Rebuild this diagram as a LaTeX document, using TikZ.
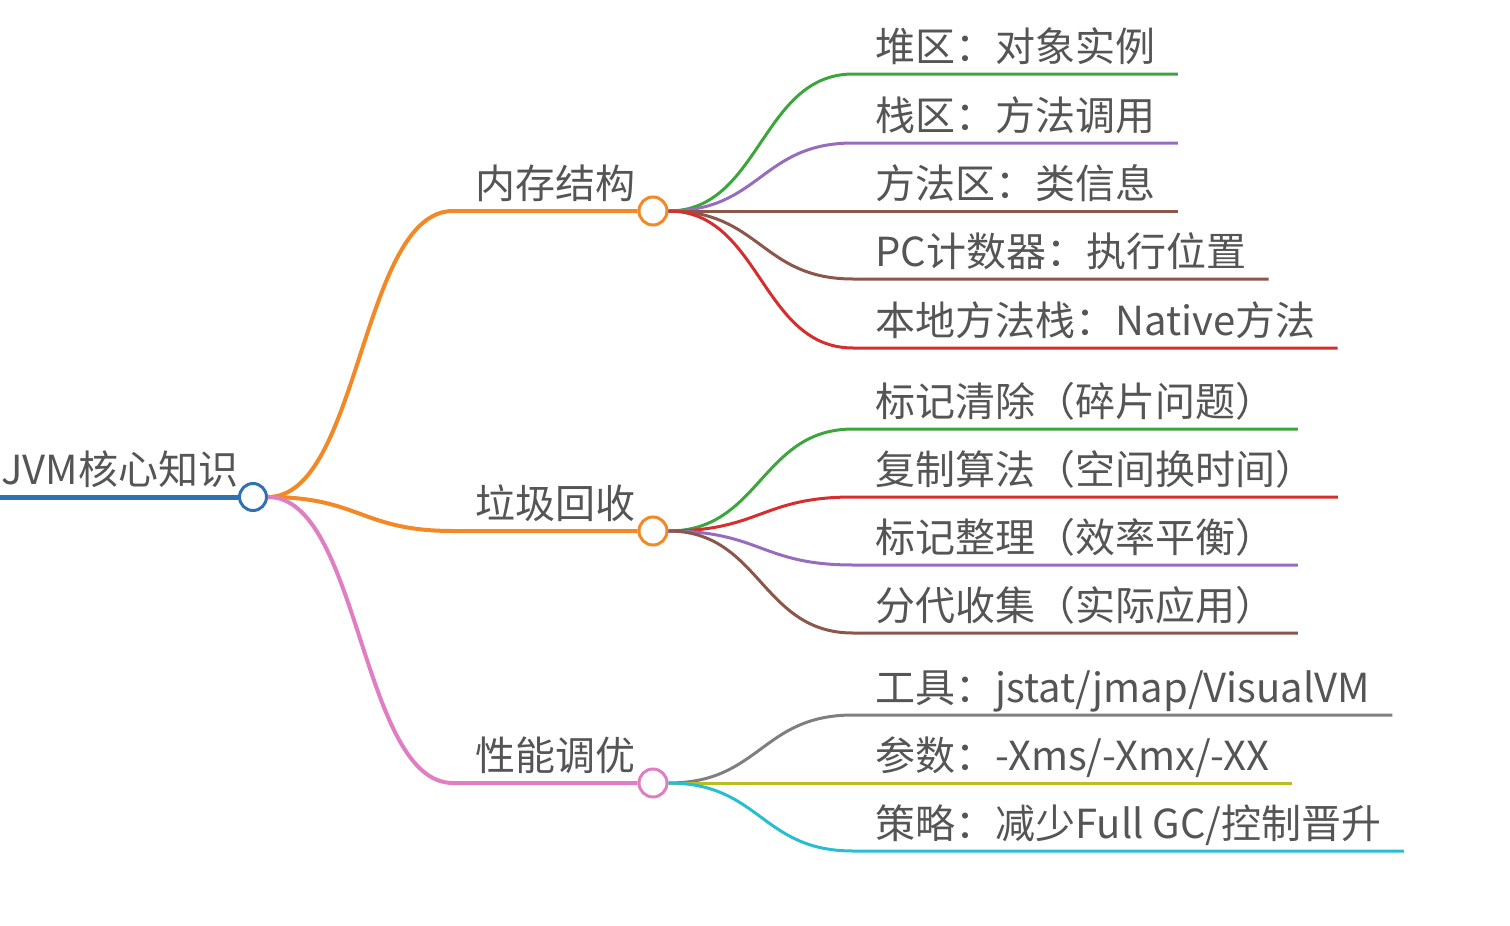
\documentclass[tikz,border=0pt]{standalone}
\usepackage{fontspec}
\setmainfont{Noto Sans CJK SC}
\usetikzlibrary{positioning}
\definecolor{colBlue}{RGB}{46,114,180}
\definecolor{colOrange}{RGB}{243,136,38}
\definecolor{colGreen}{RGB}{60,165,60}
\definecolor{colRed}{RGB}{214,45,45}
\definecolor{colPurple}{RGB}{150,108,192}
\definecolor{colBrown}{RGB}{140,86,75}
\definecolor{colPink}{RGB}{225,125,195}
\definecolor{colGray}{RGB}{127,127,127}
\definecolor{colOlive}{RGB}{188,189,34}
\definecolor{colCyan}{RGB}{40,190,210}
\definecolor{colText}{RGB}{85,85,85}
\tikzset{
  % text sitting on its own underline
  lineText/.style={
    anchor=south west, inner xsep=11pt, inner ysep=6pt,
    text depth=0pt, text=colText,
    font=\fontsize{20}{24}\selectfont,
  },
  rootText/.style={lineText, inner xsep=0.5pt},
  % hub circles
  hub/.style={
    circle, draw=#1, line width=1.5pt, fill=white,
    minimum size=14pt, inner sep=0pt,
  },
  % connectors
  rootLine/.style ={draw=colBlue, line width=2.5pt},
  trunk/.style    ={draw=#1, line width=2pt},
  twig/.style     ={draw=#1, line width=1.5pt},
}

\begin{document}
\begin{tikzpicture}[x=0.5pt, y=-0.5pt]
\useasboundingbox (0,0) rectangle (1510,926);

% ═══════════════════════════════════════════════════════════════════════════
%  ROOT
% ═══════════════════════════════════════════════════════════════════════════
\coordinate (rootL) at (0,497);
\node[rootText] (rootTxt) at (rootL) {JVM核心知识};
\node[hub=colBlue, minimum size=13.5pt] (root) at (253,497) {};
\draw[rootLine] (rootL) -- (root.west);

% ═══════════════════════════════════════════════════════════════════════════
%  BRANCHES
% ═══════════════════════════════════════════════════════════════════════════
\node[lineText] (memTxt)  at (453,211) {内存结构};
\node[hub=colOrange] (mem)  at (653,211) {};
\node[lineText] (gcTxt)   at (453,531) {垃圾回收};
\node[hub=colOrange] (gc)   at (653,531) {};
\node[lineText] (perfTxt) at (453,783) {性能调优};
\node[hub=colPink] (perf)   at (653,783) {};

\draw[trunk=colOrange] (root.east) .. controls +(92,0) and +(-92,0) .. (memTxt.south west) -- (mem.west);
\draw[trunk=colOrange] (root.east) .. controls +(92,0) and +(-92,0) .. (gcTxt.south west) -- (gc.west);
\draw[trunk=colPink]   (root.east) .. controls +(92,0) and +(-92,0) .. (perfTxt.south west) -- (perf.west);

% ── 内存结构 ───────────────────────────────────────────────────────────────
\node[lineText] (heap)        at (853,74)  {堆区：对象实例};
\node[lineText] (stack)       at (853,143) {栈区：方法调用};
\node[lineText] (methodArea)  at (853,211) {方法区：类信息};
\node[lineText] (pcReg)       at (853,279) {PC计数器：执行位置};
\node[lineText] (nativeStack) at (853,348) {本地方法栈：Native方法};

\draw[twig=colGreen]  (mem.east) .. controls +(92,0) and +(-92,0) .. (heap.south west) -- (heap.south east);
\draw[twig=colPurple] (mem.east) .. controls +(92,0) and +(-92,0) .. (stack.south west) -- (stack.south east);
\draw[twig=colBrown]  (mem.east) -- (methodArea.south west) -- (methodArea.south east);
\draw[twig=colBrown]  (mem.east) .. controls +(92,0) and +(-92,0) .. (pcReg.south west) -- (pcReg.south east);
\draw[twig=colRed]    (mem.east) .. controls +(92,0) and +(-92,0) .. (nativeStack.south west) -- (nativeStack.south east);

% ── 垃圾回收 ───────────────────────────────────────────────────────────────
\node[lineText] (markSweep)    at (853,429) {标记清除（碎片问题）};
\node[lineText] (copying)      at (853,497) {复制算法（空间换时间）};
\node[lineText] (markCompact)  at (853,565) {标记整理（效率平衡）};
\node[lineText] (generational) at (853,633) {分代收集（实际应用）};

\draw[twig=colGreen]  (gc.east) .. controls +(92,0) and +(-92,0) .. (markSweep.south west) -- (markSweep.south east);
\draw[twig=colRed]    (gc.east) .. controls +(92,0) and +(-92,0) .. (copying.south west) -- (copying.south east);
\draw[twig=colPurple] (gc.east) .. controls +(92,0) and +(-92,0) .. (markCompact.south west) -- (markCompact.south east);
\draw[twig=colBrown]  (gc.east) .. controls +(92,0) and +(-92,0) .. (generational.south west) -- (generational.south east);

% ── 性能调优 ───────────────────────────────────────────────────────────────
\node[lineText] (tools)    at (853,715) {工具：jstat/jmap/VisualVM};
\node[lineText] (params)   at (853,783) {参数：-Xms/-Xmx/-XX};
\node[lineText] (strategy) at (853,851) {策略：减少Full GC/控制晋升};

\draw[twig=colGray]  (perf.east) .. controls +(92,0) and +(-92,0) .. (tools.south west) -- (tools.south east);
\draw[twig=colOlive] (perf.east) -- (params.south west) -- (params.south east);
\draw[twig=colCyan]  (perf.east) .. controls +(92,0) and +(-92,0) .. (strategy.south west) -- (strategy.south east);

\end{tikzpicture}
\end{document}
